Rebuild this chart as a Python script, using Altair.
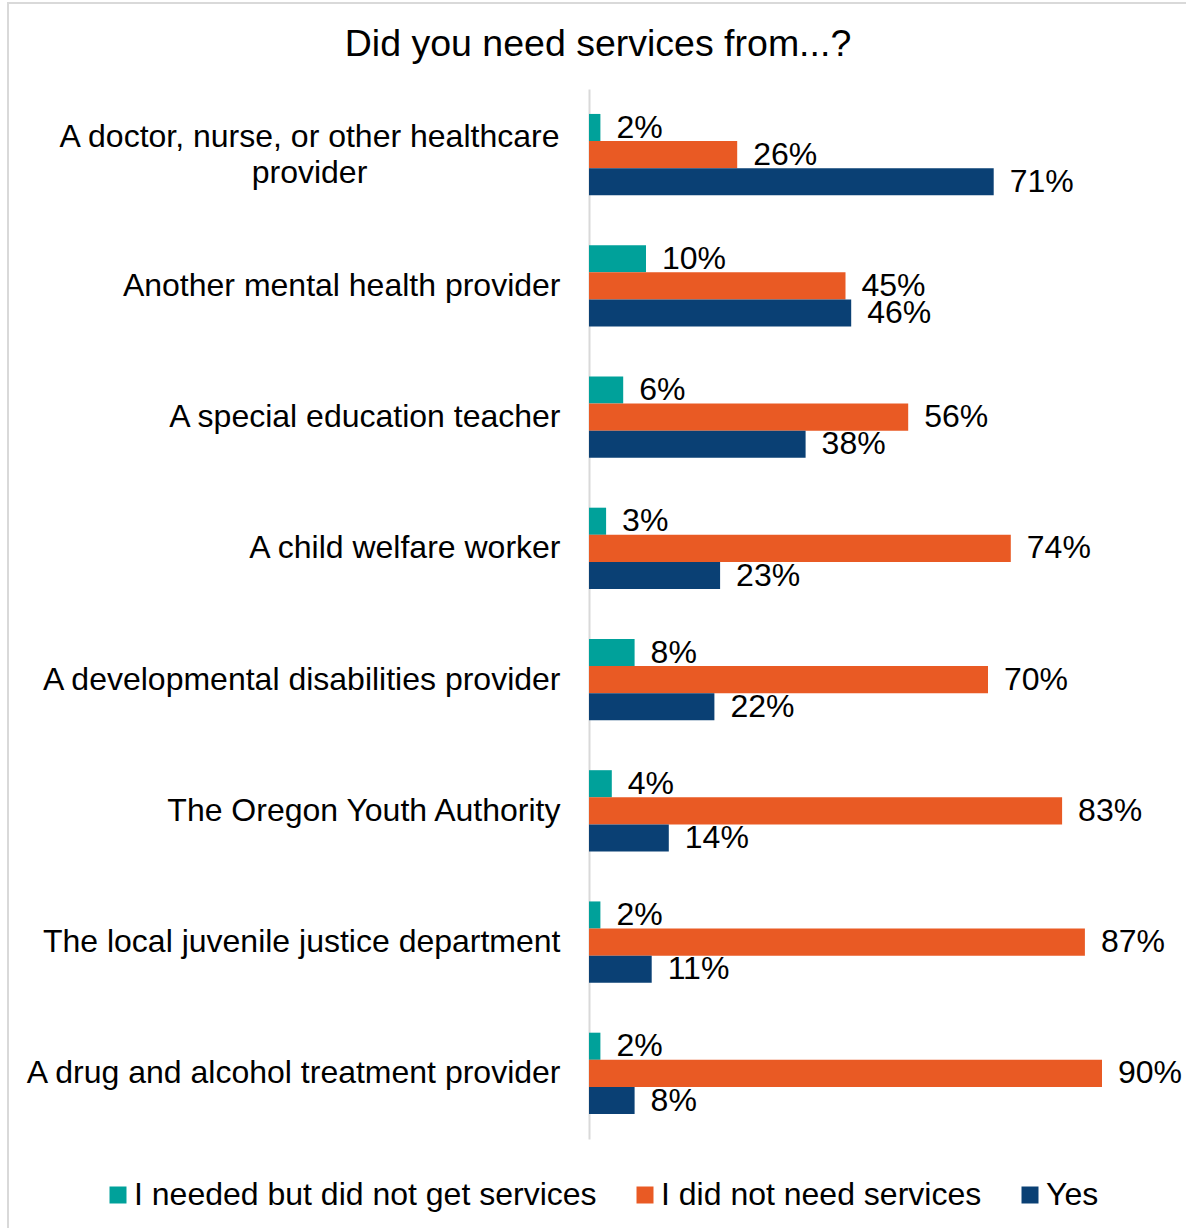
import altair as alt
import pandas as pd

title_text = "Did you need services from...?"

categories = [
    "A doctor, nurse, or other healthcare provider",
    "Another mental health provider",
    "A special education teacher",
    "A child welfare worker",
    "A developmental disabilities provider",
    "The Oregon Youth Authority",
    "The local juvenile justice department",
    "A drug and alcohol treatment provider",
]
series = ["I needed but did not get services", "I did not need services", "Yes"]
colors = ["#00A19A", "#E95A24", "#0A4074"]

needed_not_got = [2, 10, 6, 3, 8, 4, 2, 2]
not_needed = [26, 45, 56, 74, 70, 83, 87, 90]
yes = [71, 46, 38, 23, 22, 14, 11, 8]

rows = []
for i, cat in enumerate(categories):
    for name, vals in zip(series, [needed_not_got, not_needed, yes]):
        rows.append({"category": cat, "response": name, "pct": vals[i], "label": f"{vals[i]}%"})
df = pd.DataFrame(rows)

FONT = "Liberation Sans"
TEXT_SIZE = 32
first = categories[0]
is_first = f"datum.value == '{first}'"

x_enc = alt.X("pct:Q", scale=alt.Scale(domain=[0, 100], nice=False), axis=None)
y_enc = alt.Y(
    "category:N",
    sort=categories,
    title=None,
    scale=alt.Scale(paddingInner=0.38, paddingOuter=0.19),
    axis=alt.Axis(
        ticks=False,
        grid=False,
        domainColor="#d9d9d9",
        domainWidth=2,
        labelFont=FONT,
        labelFontSize=TEXT_SIZE,
        labelColor="black",
        labelLimit=0,
        labelLineHeight=36,
        labelExpr=f"{is_first} ? ['A doctor, nurse, or other healthcare', 'provider'] : datum.label",
        labelAlign={"condition": {"test": is_first, "value": "center"}, "value": "right"},
        labelPadding={"condition": {"test": is_first, "value": 280}, "value": 29},
        labelOffset={"condition": {"test": is_first, "value": -18}, "value": 0},
    ),
)
y_off = alt.YOffset("response:N", sort=series, scale=alt.Scale(paddingInner=0, paddingOuter=0))

color_enc = alt.Color(
    "response:N",
    scale=alt.Scale(domain=series, range=colors),
    legend=alt.Legend(
        orient="none",
        legendX=-487,
        legendY=1090,
        direction="horizontal",
        columns=3,
        title=None,
        symbolType="square",
        symbolSize=289,
        symbolStrokeWidth=0,
        labelFont=FONT,
        labelFontSize=TEXT_SIZE,
        labelColor="black",
        labelLimit=0,
        labelOffset=0,
        columnPadding=32,
        padding=0,
    ),
)

bars = alt.Chart(df).mark_bar().encode(x=x_enc, y=y_enc, yOffset=y_off, color=color_enc)

values = alt.Chart(df).mark_text(
    align="left", baseline="middle", dx=16, fontSize=TEXT_SIZE, font=FONT, color="black"
).encode(x=x_enc, y=y_enc, yOffset=y_off, text="label:N")

# light frame around the whole figure
frame = alt.Chart(pd.DataFrame({"f": [0]})).mark_rect(
    fillOpacity=0, stroke="#d9d9d9", strokeWidth=2
).encode(x=alt.value(-581), x2=alt.value(620), y=alt.value(-86), y2=alt.value(1160))

heading = alt.Chart(pd.DataFrame({"t": [title_text]})).mark_text(
    fontSize=37.5, font=FONT, align="center", baseline="middle", color="black"
).encode(x=alt.value(9), y=alt.value(-44), text="t:N")

chart = (
    alt.layer(frame, bars, values, heading)
    .properties(
        width=570,
        height=1050,
        autosize="none",
        padding={"left": 589, "top": 89, "right": 27, "bottom": 89},
        background="white",
    )
    .configure_view(strokeWidth=0)
)

chart.save("out.html", embed_options={"renderer": "svg", "actions": False})
